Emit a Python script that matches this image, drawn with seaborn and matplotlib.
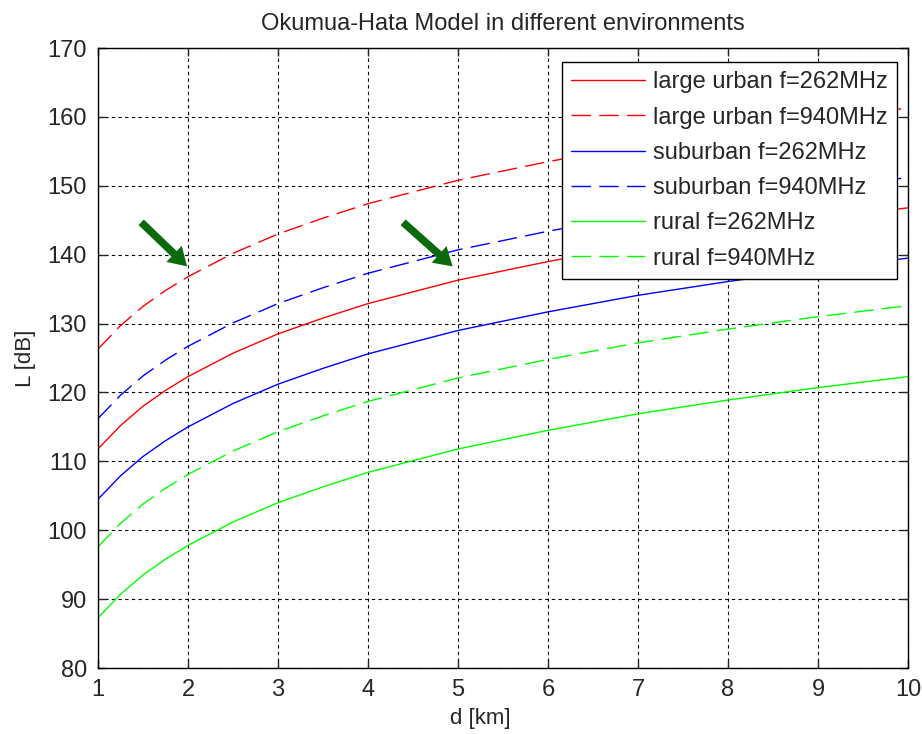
import matplotlib
matplotlib.use("Agg")
import matplotlib.pyplot as plt
import seaborn as sns

# distance [km] and path loss [dB]
d_km = [1, 1.25, 1.5, 1.75, 2, 2.5, 3, 3.5, 4, 5, 6, 7, 8, 9, 10]
urban_262 = [111.8, 115.2, 118.0, 120.3, 122.3, 125.7, 128.5, 130.8, 132.9, 136.3, 139.0, 141.4, 143.4, 145.2, 146.8]
urban_940 = [126.3, 129.7, 132.5, 134.8, 136.8, 140.2, 143.0, 145.3, 147.4, 150.8, 153.5, 155.9, 157.9, 159.7, 161.3]
suburban_262 = [104.5, 107.9, 110.7, 113.0, 115.0, 118.4, 121.2, 123.5, 125.6, 129.0, 131.7, 134.1, 136.1, 137.9, 139.5]
suburban_940 = [116.2, 119.6, 122.4, 124.7, 126.7, 130.1, 132.9, 135.2, 137.3, 140.7, 143.4, 145.8, 147.8, 149.6, 151.2]
rural_262 = [87.3, 90.7, 93.5, 95.8, 97.8, 101.2, 104.0, 106.3, 108.4, 111.8, 114.5, 116.9, 118.9, 120.7, 122.3]
rural_940 = [97.6, 101.0, 103.8, 106.1, 108.1, 111.5, 114.3, 116.6, 118.7, 122.1, 124.8, 127.2, 129.2, 131.0, 132.6]

dashed = (0, (14, 6))
series = [
    ("large urban f=262MHz", urban_262, "red", "-"),
    ("large urban f=940MHz", urban_940, "red", dashed),
    ("suburban f=262MHz", suburban_262, "blue", "-"),
    ("suburban f=940MHz", suburban_940, "blue", dashed),
    ("rural f=262MHz", rural_262, "lime", "-"),
    ("rural f=940MHz", rural_940, "lime", dashed),
]

# arrow annotations (tail, head) in data units
arrows = [((1.48, 144.7), (1.99, 138.3)), ((4.39, 144.7), (4.94, 138.3))]

sns.set_style("ticks")
plt.rcParams["font.family"] = ["Liberation Sans", "DejaVu Sans"]

fig = plt.figure(figsize=(9.22, 7.34), dpi=100)
ax = fig.add_axes([0.1063, 0.0899, 0.8785, 0.8447])

for label, values, color, ls in series:
    sns.lineplot(x=d_km, y=values, color=color, linestyle=ls, linewidth=1.0, label=label, ax=ax)

for tail, head in arrows:
    ax.annotate("", xy=head, xytext=tail,
                arrowprops=dict(width=5.5, headwidth=16, headlength=13, shrink=0,
                                color="#0b6b0b", lw=0))

ax.set_xlim(1, 10)
ax.set_ylim(80, 170)
ax.set_xticks(range(1, 11))
ax.set_yticks(range(80, 171, 10))
ax.grid(True, color="black", linestyle=(0, (3, 3)), linewidth=0.8)
ax.tick_params(direction="in", length=6, width=1, top=True, right=True, labelsize=17, pad=8)
for sp in ax.spines.values():
    sp.set_visible(True)
    sp.set_color("black")
    sp.set_linewidth(1.0)

ax.set_title("Okumua-Hata Model in different environments", fontsize=17, pad=13)
ax.set_xlabel("d [km]", fontsize=16, labelpad=6)
ax.xaxis.set_label_coords(0.472, -0.065)
ax.set_ylabel("L [dB]", fontsize=16, labelpad=8)

leg = ax.legend(loc="upper right", bbox_to_anchor=(0.9864, 0.9774), borderaxespad=0,
                fontsize=17, fancybox=False, framealpha=1, edgecolor="black",
                handlelength=3.1, handletextpad=0.35, labelspacing=0.56, borderpad=0.4)
leg.get_frame().set_linewidth(1.0)

fig.savefig("out.png", dpi=100, facecolor="white")
